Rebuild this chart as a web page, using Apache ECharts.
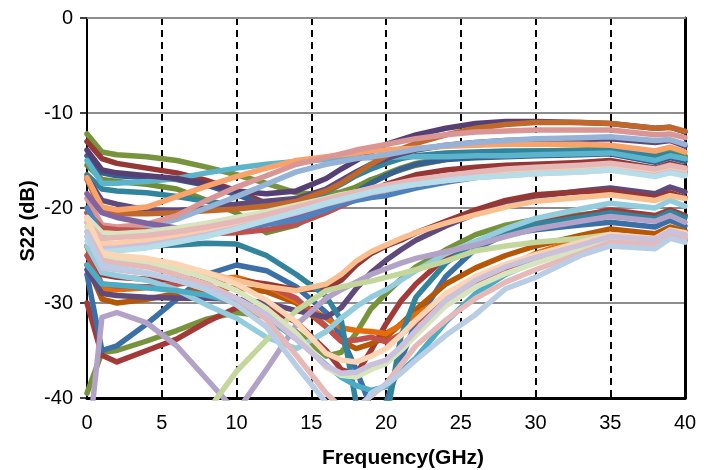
<!DOCTYPE html>
<html><head><meta charset="utf-8">
<script src="https://cdn.jsdelivr.net/npm/echarts@6/dist/echarts.min.js"></script>
<style>html,body{margin:0;padding:0;background:#fff}#c{width:712px;height:470px}</style>
</head><body><div id="c"></div>
<script>
// Frequency points (GHz)
const freq = [0,1,2,4,6,8,10,12,14,16,17,18,19,20,21,22,24,26,28,30,33,35,38,39,40];
const xTicks = [0,5,10,15,20,25,30,35,40];
const yTicks = [0,-10,-20,-30,-40];

// Upper group
const t1 = [-13.9,-16.0,-16.3,-16.6,-16.9,-17.5,-18.2,-18.5,-18.2,-16.9,-15.9,-15.0,-14.1,-13.3,-12.8,-12.3,-11.6,-11.1,-10.9,-10.9,-11.0,-11.1,-11.6,-11.5,-12.0];
const t2 = [-17.0,-20.3,-20.6,-20.6,-20.5,-20.3,-20.1,-19.8,-19.3,-18.2,-17.4,-16.4,-15.4,-14.5,-13.8,-13.2,-12.3,-11.6,-11.2,-11.0,-11.0,-11.1,-11.6,-11.5,-11.9];
const t3 = [-19.0,-21.8,-22.0,-21.7,-20.8,-19.2,-17.8,-16.6,-15.4,-14.7,-14.3,-13.9,-13.6,-13.3,-13.0,-12.7,-12.3,-12.0,-11.9,-11.8,-11.8,-11.8,-12.3,-12.2,-12.6];
const t4 = [-20.5,-22.5,-22.6,-22.0,-21.2,-20.0,-18.8,-17.5,-16.2,-15.4,-15.1,-14.8,-14.6,-14.4,-14.1,-13.8,-13.4,-13.1,-12.9,-12.7,-12.6,-12.5,-12.9,-12.8,-13.3];
const t5 = [-16.8,-19.2,-19.6,-20.2,-20.3,-20.0,-19.6,-19.3,-19.0,-18.0,-17.1,-16.2,-15.4,-14.8,-14.3,-13.9,-13.4,-13.1,-12.9,-12.8,-12.8,-12.7,-13.1,-12.9,-13.5];
const t6 = [-16.8,-19.9,-20.2,-19.9,-18.8,-17.7,-16.7,-15.8,-15.0,-14.6,-14.4,-14.2,-14.0,-13.9,-13.8,-13.7,-13.5,-13.4,-13.3,-13.3,-13.3,-13.4,-14.0,-13.6,-14.1];
const t7 = [-15.0,-17.4,-17.4,-17.2,-16.9,-16.3,-15.8,-15.4,-15.1,-14.9,-14.8,-14.7,-14.7,-14.7,-14.6,-14.6,-14.6,-14.5,-14.5,-14.4,-14.3,-14.2,-15.0,-14.5,-14.8];
const t8 = [-16.5,-18.0,-18.2,-18.4,-18.8,-19.3,-19.7,-19.9,-19.6,-18.3,-17.5,-16.6,-15.9,-15.3,-14.8,-14.5,-14.2,-14.1,-14.0,-14.0,-14.0,-13.9,-14.6,-14.3,-14.8];
const t9 = [-12.2,-14.1,-14.4,-14.6,-15.0,-15.7,-16.5,-17.4,-18.4,-18.6,-18.3,-17.8,-17.1,-16.4,-15.8,-15.3,-14.7,-14.3,-14.1,-14.0,-13.9,-13.8,-14.3,-14.0,-14.5];
const t10 = [-15.5,-17.0,-17.2,-17.5,-18.0,-19.2,-20.5,-22.6,-21.8,-19.9,-18.9,-17.8,-17.0,-16.5,-16.0,-15.5,-14.9,-14.4,-14.3,-14.2,-14.1,-14.0,-14.5,-14.2,-14.6];
const t11 = [-13.0,-14.8,-15.3,-15.8,-16.3,-17.1,-18.2,-19.5,-20.7,-20.2,-19.6,-18.9,-18.2,-17.5,-17.0,-16.5,-16.0,-15.7,-15.5,-15.4,-15.2,-15.0,-15.8,-15.3,-15.7];
const t12 = [-14.5,-16.3,-16.6,-16.8,-17.0,-17.6,-18.6,-19.7,-20.6,-20.0,-19.2,-18.3,-17.4,-16.6,-15.9,-15.4,-14.9,-14.7,-14.6,-14.5,-14.4,-14.3,-15.2,-14.7,-15.1];

// Middle group
const m1 = [-22.0,-23.8,-23.7,-23.4,-22.9,-22.3,-21.6,-20.8,-20.0,-19.2,-18.8,-18.4,-18.0,-17.7,-17.4,-17.2,-16.8,-16.4,-16.1,-15.9,-15.7,-15.5,-16.2,-15.8,-16.0];
const m2 = [-21.0,-22.6,-22.7,-22.5,-22.1,-21.6,-21.0,-20.4,-19.7,-19.0,-18.6,-18.3,-18.0,-17.7,-17.5,-17.3,-17.0,-16.7,-16.5,-16.3,-16.1,-15.9,-16.5,-16.2,-16.4];
const m3 = [-23.0,-24.3,-24.2,-23.9,-23.4,-22.8,-22.1,-21.3,-20.5,-19.6,-19.2,-18.8,-18.4,-18.1,-17.8,-17.5,-17.1,-16.8,-16.6,-16.4,-16.2,-16.0,-16.6,-16.2,-16.5];
const m4 = [-21.5,-23.2,-23.1,-22.9,-22.5,-22.0,-21.4,-20.7,-19.9,-19.1,-18.7,-18.3,-17.9,-17.6,-17.3,-17.0,-16.6,-16.2,-15.9,-15.7,-15.5,-15.3,-15.9,-15.5,-15.8];
const m5 = [-20.0,-22.8,-22.9,-22.8,-22.6,-22.3,-22.0,-21.7,-21.3,-20.2,-19.6,-19.2,-18.9,-18.7,-18.3,-17.9,-17.3,-16.8,-16.5,-16.3,-16.1,-15.9,-16.5,-16.1,-16.4];
const m6 = [-20.5,-22.1,-22.3,-22.4,-22.6,-22.7,-22.6,-22.3,-21.7,-20.5,-19.8,-19.1,-18.5,-18.0,-17.6,-17.3,-16.8,-16.4,-16.1,-15.9,-15.7,-15.5,-16.1,-15.8,-16.0];
const m7 = [-18.5,-20.5,-21.0,-21.6,-22.1,-22.3,-22.2,-21.6,-20.9,-19.9,-19.4,-18.9,-18.5,-18.1,-17.8,-17.5,-17.0,-16.6,-16.3,-16.1,-15.9,-15.7,-16.3,-15.9,-16.2];
const m8 = [-23.5,-24.6,-24.5,-24.2,-23.6,-23.0,-22.2,-21.3,-20.4,-19.5,-19.1,-18.7,-18.3,-18.0,-17.7,-17.5,-17.1,-16.8,-16.6,-16.4,-16.2,-16.0,-16.7,-16.3,-16.6];

// Lower group
const l1 = [-24.0,-27.0,-27.3,-27.5,-27.5,-27.4,-27.6,-28.0,-28.6,-28.5,-27.6,-26.0,-24.8,-24.0,-23.4,-22.6,-21.4,-20.2,-19.2,-18.6,-18.3,-18.2,-18.9,-18.4,-18.9];
const l2 = [-26.5,-29.0,-29.2,-29.4,-29.5,-29.5,-29.6,-30.0,-30.8,-31.5,-30.5,-28.5,-26.8,-25.5,-24.4,-23.4,-21.9,-20.6,-19.5,-18.8,-18.2,-17.9,-18.5,-17.8,-18.3];
const l3 = [-21.5,-25.0,-25.2,-25.5,-26.0,-26.8,-27.6,-28.3,-28.7,-28.0,-27.0,-25.6,-24.6,-23.9,-23.2,-22.6,-21.6,-20.7,-19.9,-19.3,-18.9,-18.6,-19.2,-18.7,-19.0];
const l4 = [-24.0,-26.8,-27.1,-27.6,-28.6,-30.2,-31.6,-33.6,-34.8,-33.0,-31.6,-30.4,-29.4,-28.6,-27.6,-26.6,-24.8,-23.5,-22.2,-21.1,-20.1,-19.5,-20.0,-19.2,-19.8];
const l5 = [-30.0,-35.5,-36.2,-35.0,-33.8,-32.0,-30.5,-30.5,-32.0,-35.0,-37.0,-37.5,-35.0,-32.2,-29.8,-28.0,-25.2,-23.7,-22.6,-21.6,-20.8,-20.2,-20.8,-20.2,-20.8];
const l6 = [-46.0,-31.5,-31.0,-32.1,-34.5,-38.0,-41.5,-37.0,-32.3,-29.5,-28.6,-27.8,-27.0,-26.4,-25.8,-25.3,-24.6,-23.9,-23.0,-22.2,-21.4,-20.9,-21.4,-20.8,-21.5];
const l7 = [-27.0,-35.0,-34.5,-32.2,-29.6,-27.0,-26.0,-26.6,-28.3,-31.0,-33.5,-37.0,-41.0,-40.5,-36.0,-32.0,-27.2,-24.3,-22.8,-22.3,-21.8,-21.5,-22.0,-21.3,-21.9];
const l8 = [-48.0,-48.0,-48.0,-48.0,-48.0,-41.5,-37.2,-33.9,-30.8,-28.7,-28.3,-28.0,-27.7,-27.3,-26.9,-26.5,-25.6,-24.5,-24.0,-23.6,-23.2,-22.8,-24.0,-22.6,-22.9];
const l9 = [-24.0,-28.5,-28.6,-28.4,-28.0,-27.5,-27.3,-28.2,-29.8,-31.6,-32.6,-32.9,-33.0,-33.2,-32.3,-31.2,-29.4,-27.7,-26.2,-24.8,-23.2,-22.8,-23.4,-22.7,-23.1];
const l10 = [-25.0,-28.0,-28.2,-28.3,-28.0,-27.7,-27.6,-28.1,-29.5,-32.5,-34.0,-33.9,-33.6,-34.1,-33.3,-32.0,-29.8,-28.0,-26.6,-25.3,-24.0,-23.2,-23.6,-22.9,-23.4];
const l11 = [-23.0,-26.0,-26.3,-26.8,-27.6,-28.6,-30.2,-32.5,-36.6,-40.5,-42.0,-42.0,-39.5,-38.6,-37.4,-36.0,-33.4,-31.2,-28.5,-27.3,-25.0,-24.0,-24.3,-23.2,-23.6];
const l12 = [-22.5,-25.5,-25.8,-26.2,-27.0,-28.0,-29.5,-31.7,-35.5,-39.5,-41.0,-41.0,-39.8,-38.5,-36.5,-34.5,-31.8,-29.5,-27.8,-26.5,-24.8,-23.6,-23.8,-22.8,-23.2];
const l13 = [-22.0,-25.0,-25.3,-25.7,-26.4,-27.4,-28.7,-30.6,-33.2,-36.8,-37.6,-37.8,-37.0,-36.4,-35.0,-33.4,-30.3,-28.3,-26.9,-25.8,-24.3,-23.3,-23.6,-22.6,-23.0];
const l14 = [-21.0,-24.7,-25.0,-25.3,-25.9,-26.8,-28.0,-29.7,-32.0,-35.3,-36.0,-36.2,-35.6,-34.8,-33.4,-31.8,-29.0,-27.2,-25.9,-24.9,-23.6,-22.8,-23.2,-22.3,-22.6];
const l15 = [-22.5,-26.3,-26.5,-26.9,-27.6,-28.4,-29.5,-31.2,-33.8,-36.6,-37.4,-37.3,-36.5,-36.0,-34.6,-32.9,-29.7,-27.6,-26.2,-25.2,-23.9,-23.0,-23.3,-22.4,-22.8];
const l16 = [-26.0,-28.0,-28.1,-28.4,-28.7,-29.2,-29.9,-31.5,-33.8,-36.5,-37.8,-38.7,-39.2,-38.8,-37.2,-35.8,-32.0,-29.0,-27.0,-25.6,-24.0,-23.0,-23.4,-22.5,-22.9];
const l17 = [-21.0,-24.4,-24.3,-24.0,-23.9,-23.7,-23.8,-25.0,-27.0,-29.3,-31.8,-40.5,-45.0,-42.5,-33.5,-29.4,-25.8,-23.6,-22.4,-21.7,-21.0,-20.5,-21.1,-20.4,-21.0];
const l18 = [-39.5,-35.2,-35.0,-34.0,-32.9,-31.7,-31.0,-31.4,-33.0,-35.6,-35.2,-33.2,-30.6,-29.0,-27.5,-26.2,-24.4,-22.8,-21.8,-21.2,-20.7,-20.4,-20.9,-20.3,-20.8];
const l19 = [-26.0,-29.6,-30.0,-29.6,-29.0,-28.6,-28.4,-28.8,-30.0,-32.5,-34.0,-34.8,-34.3,-33.6,-32.2,-30.7,-28.0,-26.3,-25.0,-24.0,-22.9,-22.2,-22.7,-22.0,-22.4];

const curves = [l18,l5,l7,l19,l9,l10,l2,l1,l17,l4,l6,l8,l3,
                t9,t10,t11,t12,t8,t7,t5,t1,t2,t6,t4,t3,
                m6,m7,m5,m2,m1,m4,m3,m8,
                l16,l13,l14,l12,l15,l11];
const colors = ['#77933C','#A33A37','#3A6FA8','#B65708','#E46C0A','#C0504D','#604A7B','#953735','#31849B','#93CDDD','#B3A2C7','#C3D69B','#FABF8F',
                '#77933C','#6E8E35','#953735','#376092','#31849B','#5BB4CC','#604A7B','#564073','#C0682B','#F9A36B','#95B3D7','#D99694',
                '#C0504D','#8064A2','#4F81BD','#D7E4BD','#FBCDA9','#E6B9B8','#CCC1DA','#B7DEE8',
                '#4BACC6','#D7E4BD','#FCD5B5','#E6B9B8','#CCC1DA','#B9CDE5'];

const series = curves.map((v, k) => ({
  type: 'line',
  data: freq.map((f, i) => [f, v[i]]),
  showSymbol: false,
  symbol: 'none',
  clip: true,
  lineStyle: { width: 5.5, color: colors[k], join: 'round', cap: 'round' },
  itemStyle: { color: colors[k] },
  silent: true,
  animation: false
}));

const chart = echarts.init(document.getElementById('c'), null, { renderer: 'canvas' });
chart.setOption({
  animation: false,
  backgroundColor: '#fff',
  grid: { left: 87, right: 27, top: 18, bottom: 72, containLabel: false },
  xAxis: [{
    type: 'value', min: xTicks[0], max: xTicks[xTicks.length - 1], interval: 5, position: 'bottom',
    axisLine: { onZero: false, lineStyle: { color: '#000', width: 3 } },
    axisTick: { show: false },
    axisLabel: { fontSize: 20, color: '#000', fontFamily: 'Liberation Sans, Arial', margin: 15 },
    splitLine: { show: true, showMinLine: false, showMaxLine: false, lineStyle: { color: '#000', type: [7, 5], width: 2 } }
  }, {
    type: 'value', min: 0, max: 40, position: 'top',
    axisLine: { show: true, onZero: false, lineStyle: { color: '#8c8c8c', width: 2 } },
    axisTick: { show: false }, axisLabel: { show: false }, splitLine: { show: false }
  }],
  yAxis: [{
    type: 'value', min: yTicks[yTicks.length - 1], max: yTicks[0], interval: 10, position: 'left',
    axisLine: { show: true, onZero: false, lineStyle: { color: '#000', width: 2 } },
    axisTick: { show: true, length: 7, lineStyle: { color: '#000', width: 1.5 } },
    axisLabel: { fontSize: 20, color: '#000', fontFamily: 'Liberation Sans, Arial', margin: 14 },
    splitLine: { show: true, showMinLine: false, showMaxLine: false, lineStyle: { color: '#8c8c8c', width: 2 } }
  }, {
    type: 'value', min: -40, max: 0, position: 'right',
    axisLine: { show: true, onZero: false, lineStyle: { color: '#000', width: 3 } },
    axisTick: { show: false }, axisLabel: { show: false }, splitLine: { show: false }
  }],
  graphic: [{
    type: 'text', x: 403, y: 458, silent: true,
    style: { text: 'Frequency(GHz)', fill: '#000', font: 'bold 21px "Liberation Sans", Arial', align: 'center', verticalAlign: 'middle', textAlign: 'center', textVerticalAlign: 'middle' }
  }, {
    type: 'text', x: 28, y: 221, rotation: Math.PI / 2, silent: true,
    style: { text: 'S22 (dB)', fill: '#000', font: 'bold 20px "Liberation Sans", Arial', align: 'center', verticalAlign: 'middle', textAlign: 'center', textVerticalAlign: 'middle' }
  }],
  series: series
});
</script>
</body></html>
